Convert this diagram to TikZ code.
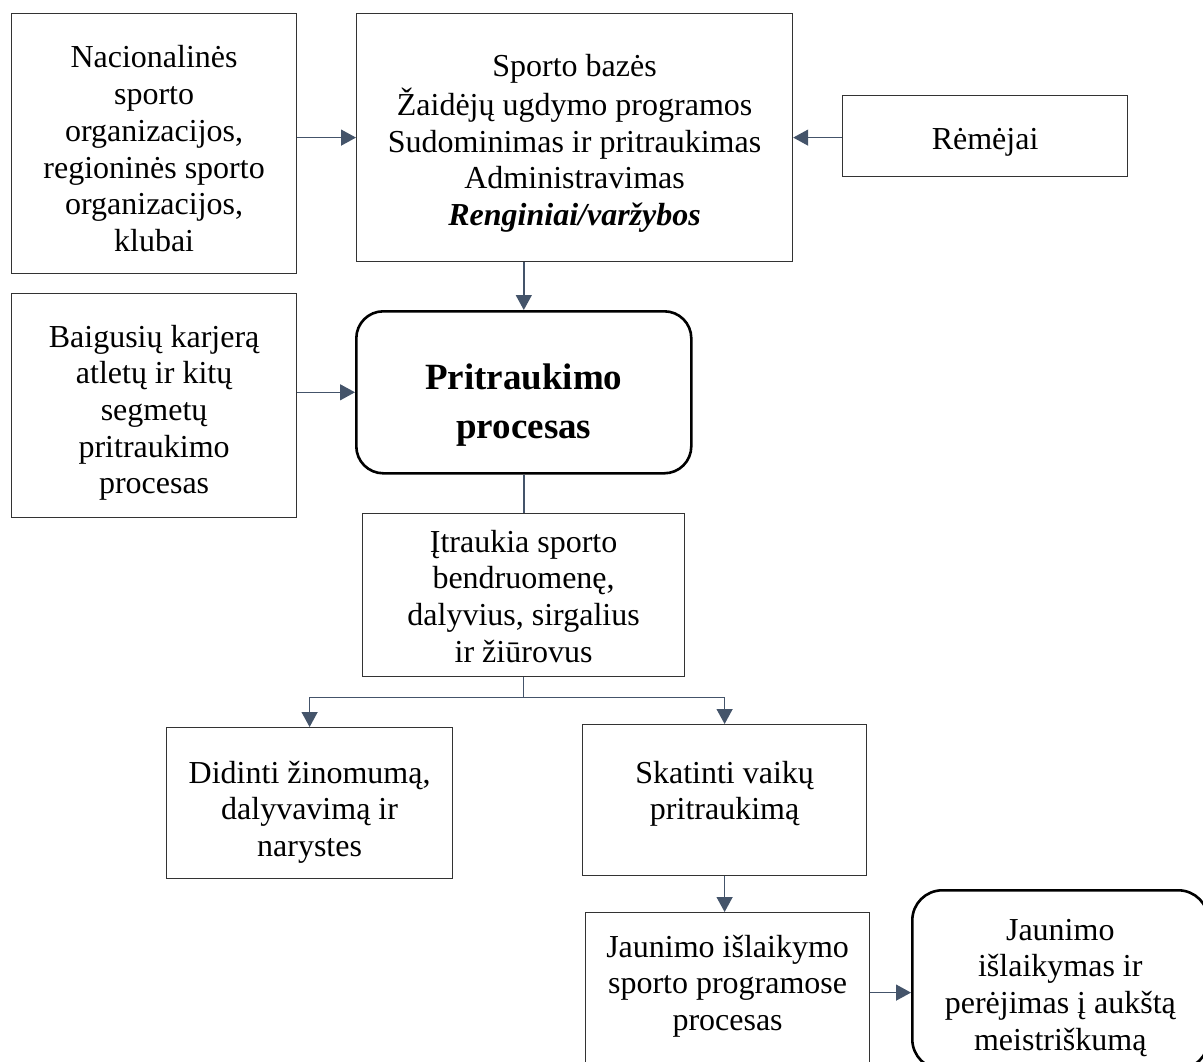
\documentclass[tikz,border=0pt]{standalone}
\usepackage{fontspec}
\setmainfont{Liberation Serif}
\usetikzlibrary{arrows.meta,calc}
\definecolor{arrowc}{HTML}{44546A}
\newcommand{\mlines}[1]{\begin{tabular}[t]{@{}c@{}}#1\end{tabular}}
\begin{document}
\begin{tikzpicture}[x=1pt,y=-1pt,
  box/.style={draw=black!80, line width=1.2pt, inner sep=0pt, anchor=north west},
  rbox/.style={draw=black, line width=2.6pt, rounded corners=27pt, inner sep=0pt, anchor=north west},
  txt/.style={inner sep=0pt, anchor=base, font=\fontsize{32}{36.7}\selectfont},
  btxt/.style={inner sep=0pt, anchor=base, font=\fontsize{37}{49}\selectfont\bfseries},
  conn/.style={draw=arrowc, line width=1.4pt},
  arr/.style={conn, -{Triangle[length=15pt,width=16pt]}}]
\useasboundingbox (0,0) rectangle (1203,1062);
\clip (0,0) rectangle (1203,1062);
% boxes
\node[box, minimum width=285pt, minimum height=260pt] (A) at (11,13) {};
\node[box, minimum width=436pt, minimum height=248pt] (B) at (356,13) {};
\node[box, minimum width=285pt, minimum height=81pt] (C) at (842,95) {};
\node[box, minimum width=285pt, minimum height=224pt] (D) at (11,293) {};
\node[rbox, minimum width=335pt, minimum height=162pt] (E) at (355,310) {};
\node[box, minimum width=322pt, minimum height=163pt] (F) at (362,513) {};
\node[box, minimum width=286pt, minimum height=151pt] (G) at (166,727) {};
\node[box, minimum width=284pt, minimum height=151pt] (H) at (582,724) {};
\node[box, minimum width=284pt, minimum height=160pt] (I) at (585,912) {};
\node[rbox, rounded corners=30pt, minimum width=296pt, minimum height=179pt] (J) at (911,889) {};
% texts
\node[txt] (tA) at ($(A.north)+(0,55)$) {\mlines{Nacionalinės\\sporto\\organizacijos,\\regioninės sporto\\organizacijos,\\klubai}};
\node[txt] (tB) at ($(B.north)+(0,64)$) {\mlines{Sporto bazės\\Žaidėjų ugdymo programos\\Sudominimas ir pritraukimas\\Administravimas\\\textbf{\textit{Renginiai/varžybos}}}};
\node[txt] (tC) at ($(C.north)+(0,55)$) {Rėmėjai};
\node[txt] (tD) at ($(D.north)+(0,54)$) {\mlines{Baigusių karjerą\\atletų ir kitų\\segmetų\\pritraukimo\\procesas}};
\node[btxt] (tE) at ($(E.north)+(0,79)$) {\mlines{Pritraukimo\\procesas}};
\node[txt] (tF) at ($(F.north)+(0,39)$) {\mlines{Įtraukia sporto\\bendruomenę,\\dalyvius, sirgalius\\ir žiūrovus}};
\node[txt] (tG) at ($(G.north)+(0,56)$) {\mlines{Didinti žinomumą,\\dalyvavimą ir\\narystes}};
\node[txt] (tH) at ($(H.north)+(0,59)$) {\mlines{Skatinti vaikų\\pritraukimą}};
\node[txt] (tI) at ($(I.north)+(0,45)$) {\mlines{Jaunimo išlaikymo\\sporto programose\\procesas}};
\node[txt] (tJ) at ($(J.north)+(0,51)$) {\mlines{Jaunimo\\išlaikymas ir\\perėjimas į aukštą\\meistriškumą}};
% connectors
\draw[arr] (B.west -| A.east) -- (B.west);
\draw[arr] (B.east -| C.west) -- (B.east);
\draw[arr] (B.south -| E.north) -- (E.north);
\draw[arr] (E.west -| D.east) -- (E.west);
\draw[conn] (E.south) -- (E.south |- F.north);
\coordinate (split) at ($(F.south)+(0,20)$);
\draw[conn] (F.south) -- (split);
\draw[arr] (split) -| (G.north);
\draw[arr] (split) -| (H.north);
\draw[arr] (H.south) -- (H.south |- I.north);
\draw[arr] (I.east) -- (I.east -| J.west);
\end{tikzpicture}
\end{document}
